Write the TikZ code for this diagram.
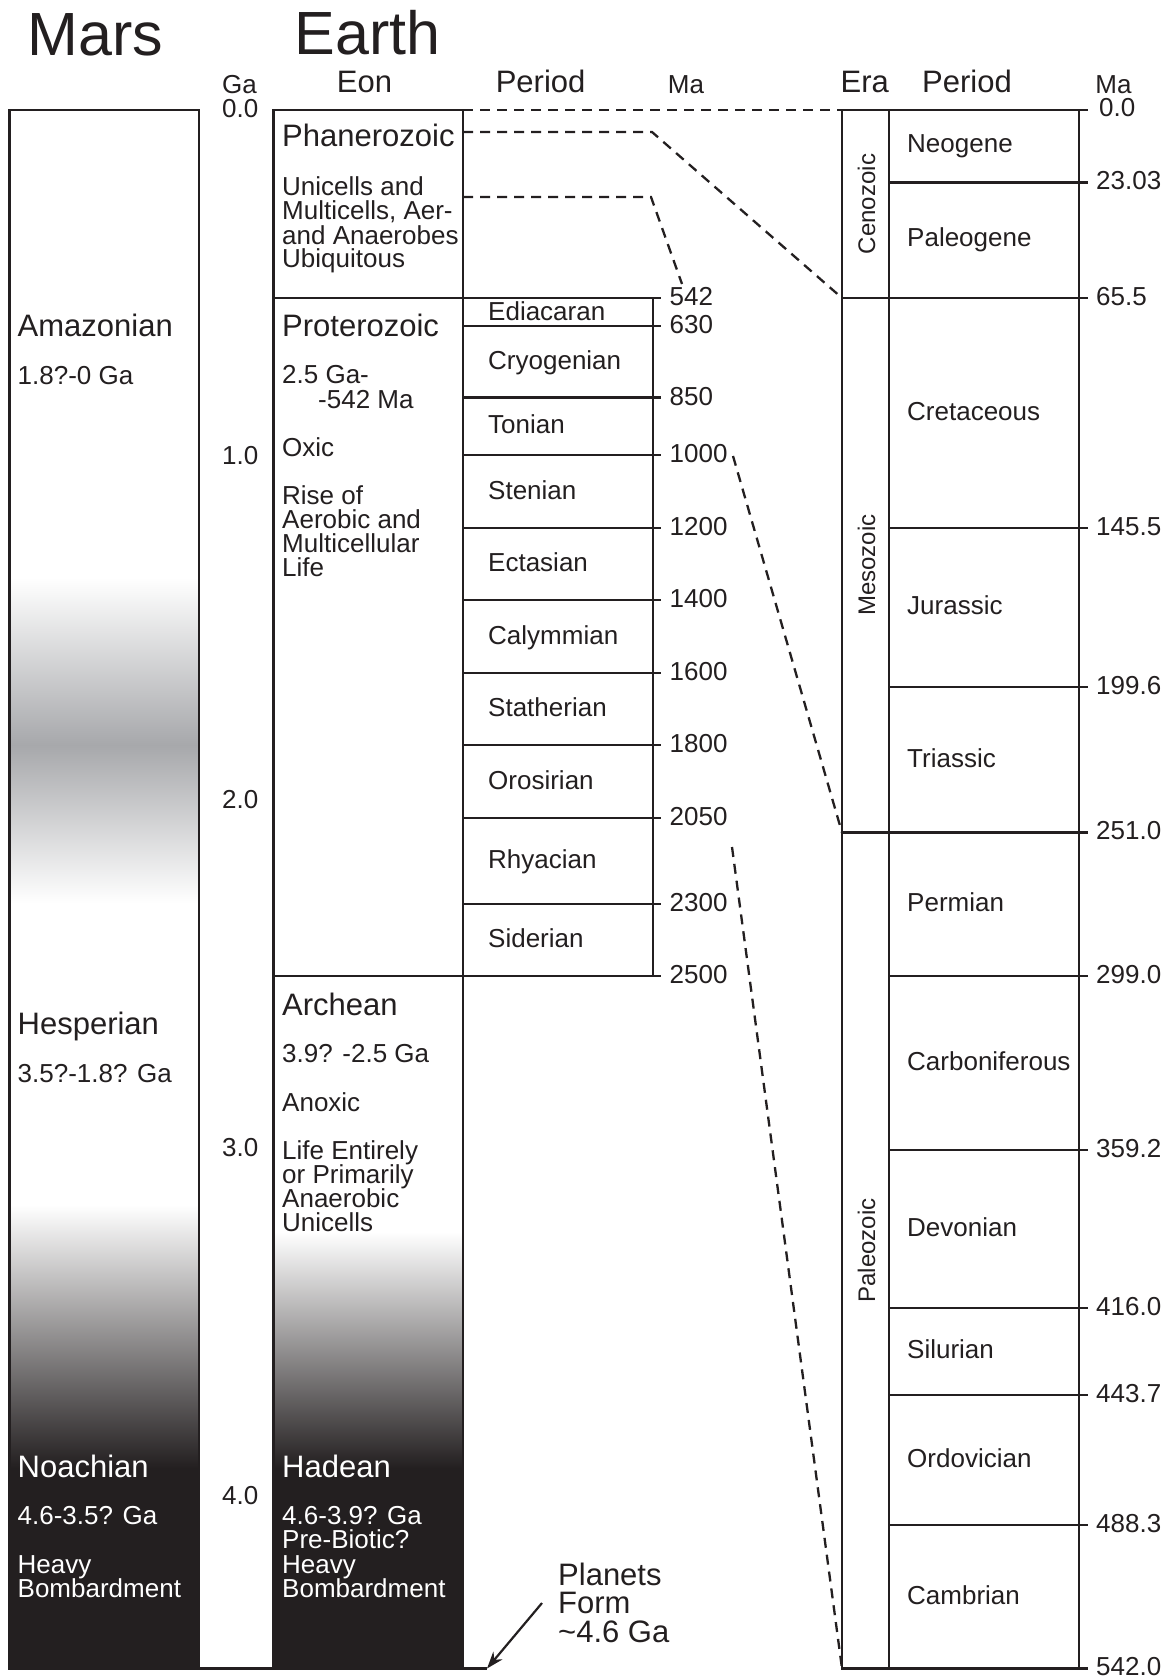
\documentclass[tikz,border=0pt]{standalone}
\usepackage{fontspec}
\setmainfont{Liberation Sans}
\usetikzlibrary{arrows.meta}
\definecolor{ink}{HTML}{231F20}
\definecolor{midgray}{HTML}{A7A8AB}
\begin{document}
\begin{tikzpicture}[x=1pt,y=-1pt,
  frame/.style={draw=ink,line width=2.7pt},
  divider/.style={draw=ink,line width=2.6pt},
  tickmark/.style={draw=ink,line width=2.6pt},
  link/.style={draw=ink,line width=2.3pt,dash pattern=on 10pt off 7pt},
  bigtitle/.style={font=\fontsize{61}{61}\selectfont,text=ink,inner sep=0pt,anchor=base},
  colhead/.style={font=\fontsize{31}{31}\selectfont,text=ink,inner sep=0pt,anchor=base},
  smallhead/.style={font=\fontsize{26}{26}\selectfont,text=ink,inner sep=0pt,anchor=base},
  unitname/.style={font=\fontsize{31}{31}\selectfont,text=ink,inner sep=0pt,anchor=base west},
  note/.style={font=\fontsize{26}{26}\selectfont,text=ink,inner sep=0pt,anchor=base west},
  ageval/.style={font=\fontsize{26}{26}\selectfont,text=ink,inner sep=0pt,anchor=base west},
  eralabel/.style={font=\fontsize{24}{24}\selectfont,text=ink,inner sep=0pt,anchor=base,rotate=90},
  pointer/.style={draw=ink,line width=2.2pt,-{Stealth[length=17pt,width=12pt]}}
]
\useasboundingbox (0,0) rectangle (1167,1680);
\fill[white] (0,0) rectangle (1167,1680);

% ---------- shading of Mars and Earth columns ----------
\shade[top color=white,bottom color=midgray] (9.6,578) rectangle (199,745);
\shade[top color=midgray,bottom color=white] (9.6,745) rectangle (199,903);
\shade[top color=white,bottom color=ink] (9.6,1205) rectangle (199,1468);
\fill[ink] (9.6,1468) rectangle (199,1668.5);
\shade[top color=white,bottom color=ink] (273.6,1232) rectangle (463,1468);
\fill[ink] (273.6,1468) rectangle (463,1668.5);

% ---------- frames ----------
\draw[frame] (9.6,110) rectangle (199,1668.5);
\draw[frame] (273.6,110) rectangle (463,1668.5);
\draw[frame] (463,298) rectangle (653,976);
\draw[divider] (273.6,298) -- (463,298);
\draw[divider] (273.6,976) -- (463,976);
\foreach \y in {326,397.5,455,528,600,673,745,818,904}
  \draw[divider] (463,\y) -- (653,\y);
\foreach \y in {298,326,397.5,455,528,600,673,745,818,904,976}
  \draw[tickmark] (653,\y) -- (661,\y);

% right table
\draw[frame] (842,110) rectangle (1079,1668.5);
\draw[divider] (889,110) -- (889,1668.5);
\draw[divider] (842,298) -- (1079,298);
\draw[divider] (842,832.6) -- (1079,832.6);
\foreach \y in {182.4,528,687,976,1150,1308,1395,1525}
  \draw[divider] (889,\y) -- (1079,\y);
\foreach \y in {110,182.4,298,528,687,832.6,976,1150,1308,1395,1525,1668.5}
  \draw[tickmark] (1079,\y) -- (1088,\y);

% ---------- named points ----------
\coordinate (eonTop) at (463,110);
\coordinate (eraTop) at (842,110);
\coordinate (phanA) at (463,132);
\coordinate (phanB) at (652,132);
\coordinate (cenoBase) at (842,298);
\coordinate (phanC) at (463,197);
\coordinate (phanD) at (651,197);
\coordinate (ediTop) at (682,284);
\coordinate (maA) at (733,456);
\coordinate (mesoBase) at (842,832.6);
\coordinate (maB) at (732,847);
\coordinate (paleoBase) at (842,1668.5);
\coordinate (marsBase) at (9.6,1668.5);
\coordinate (formTip) at (487,1668.5);
\coordinate (formTail) at (542,1603);

% bottom line
\draw[frame] (marsBase) -- (formTip);

% ---------- dashed correlation lines ----------
\draw[link] (eonTop) -- (eraTop);
\draw[link] (phanA) -- (phanB) -- (cenoBase);
\draw[link] (phanC) -- (phanD) -- (ediTop);
\draw[link] (maA) -- (mesoBase);
\draw[link] (maB) -- (paleoBase);

% ---------- titles and headers ----------
\node[bigtitle] (mars) at (95.7,56) {Mars};
\node[bigtitle] (earth) at (367.4,55) {Earth};
\node[smallhead,anchor=base west] (ga) at (222,94) {Ga};
\node[colhead] (eonh) at (364.5,93) {Eon};
\node[colhead] (perh) at (540.6,93) {Period};
\node[smallhead] (mah) at (686,94) {Ma};
\node[colhead] (erah) at (864.7,93) {Era};
\node[colhead] (perh2) at (967,93) {Period};
\node[smallhead] (mah2) at (1113.5,94) {Ma};

% Ga scale
\node[ageval] (g0) at (222,118) {0.0};
\node[ageval] (g1) at (222,464) {1.0};
\node[ageval] (g2) at (222,808) {2.0};
\node[ageval] (g3) at (222,1156) {3.0};
\node[ageval] (g4) at (222,1504) {4.0};

% ---------- Mars column ----------
\node[unitname] (amaz) at (17.5,336) {Amazonian};
\node[note] (amazA) at (17.5,384) {1.8?-0 Ga};
\node[unitname] (hesp) at (17.5,1034) {Hesperian};
\node[note] (hespA) at (17.5,1082) {3.5?-1.8? Ga};
\node[unitname,text=white] (noach) at (17.5,1477) {Noachian};
\node[note,text=white] (noachA) at (17.5,1524) {4.6-3.5? Ga};
\node[note,text=white] (noachB) at (17.5,1573) {Heavy};
\node[note,text=white] (noachC) at (17.5,1597) {Bombardment};

% ---------- Earth eons ----------
\node[unitname] (phan) at (282,147) {Phanerozoic};
\node[note] (phan1) at (282,196) {Unicells and};
\node[note] (phan2) at (282,220) {Multicells, Aer-};
\node[note] (phan3) at (282,244) {and Anaerobes};
\node[note] (phan4) at (282,268) {Ubiquitous};

\node[unitname] (prot) at (282,336) {Proterozoic};
\node[note] (prot1) at (282,383) {2.5 Ga-};
\node[note] (prot2) at (318,408) {-542 Ma};
\node[note] (prot3) at (282,456) {Oxic};
\node[note] (prot4) at (282,504) {Rise of};
\node[note] (prot5) at (282,528) {Aerobic and};
\node[note] (prot6) at (282,552) {Multicellular};
\node[note] (prot7) at (282,576) {Life};

\node[unitname] (arch) at (282,1015) {Archean};
\node[note] (arch1) at (282,1062) {3.9? -2.5 Ga};
\node[note] (arch2) at (282,1111) {Anoxic};
\node[note] (arch3) at (282,1159) {Life Entirely};
\node[note] (arch4) at (282,1183) {or Primarily};
\node[note] (arch5) at (282,1207) {Anaerobic};
\node[note] (arch6) at (282,1231) {Unicells};

\node[unitname,text=white] (had) at (282,1477) {Hadean};
\node[note,text=white] (had1) at (282,1524) {4.6-3.9? Ga};
\node[note,text=white] (had2) at (282,1548) {Pre-Biotic?};
\node[note,text=white] (had3) at (282,1573) {Heavy};
\node[note,text=white] (had4) at (282,1597) {Bombardment};

% ---------- Proterozoic periods ----------
\node[note] (p1) at (488,320) {Ediacaran};
\node[note] (p2) at (488,369) {Cryogenian};
\node[note] (p3) at (488,433.5) {Tonian};
\node[note] (p4) at (488,499) {Stenian};
\node[note] (p5) at (488,571.5) {Ectasian};
\node[note] (p6) at (488,644) {Calymmian};
\node[note] (p7) at (488,716.5) {Statherian};
\node[note] (p8) at (488,789) {Orosirian};
\node[note] (p9) at (488,868.5) {Rhyacian};
\node[note] (p10) at (488,947.5) {Siderian};

% Ma values (left)
\node[ageval] (m1) at (669.5,305.5) {542};
\node[ageval] (m2) at (669.5,333.5) {630};
\node[ageval] (m3) at (669.5,405) {850};
\node[ageval] (m4) at (669.5,462.5) {1000};
\node[ageval] (m5) at (669.5,535.5) {1200};
\node[ageval] (m6) at (669.5,607.5) {1400};
\node[ageval] (m7) at (669.5,680.5) {1600};
\node[ageval] (m8) at (669.5,752.5) {1800};
\node[ageval] (m9) at (669.5,825.5) {2050};
\node[ageval] (m10) at (669.5,911.5) {2300};
\node[ageval] (m11) at (669.5,983.5) {2500};

% ---------- Phanerozoic eras / periods ----------
\node[eralabel] (ceno) at (875,204) {Cenozoic};
\node[eralabel] (meso) at (875,565) {Mesozoic};
\node[eralabel] (paleo) at (875,1250.5) {Paleozoic};

\node[note] (q1) at (907,153) {Neogene};
\node[note] (q2) at (907,247) {Paleogene};
\node[note] (q3) at (907,420) {Cretaceous};
\node[note] (q4) at (907,614.5) {Jurassic};
\node[note] (q5) at (907,767) {Triassic};
\node[note] (q6) at (907,911.5) {Permian};
\node[note] (q7) at (907,1070) {Carboniferous};
\node[note] (q8) at (907,1236) {Devonian};
\node[note] (q9) at (907,1358.5) {Silurian};
\node[note] (q10) at (907,1467) {Ordovician};
\node[note] (q11) at (907,1604) {Cambrian};

% Ma values (right)
\node[ageval] (r0) at (1099,117) {0.0};
\node[ageval] (r1) at (1096,189.5) {23.03};
\node[ageval] (r2) at (1096,305) {65.5};
\node[ageval] (r3) at (1096,535) {145.5};
\node[ageval] (r4) at (1096,694) {199.6};
\node[ageval] (r5) at (1096,839.5) {251.0};
\node[ageval] (r6) at (1096,983) {299.0};
\node[ageval] (r7) at (1096,1157) {359.2};
\node[ageval] (r8) at (1096,1315) {416.0};
\node[ageval] (r9) at (1096,1402) {443.7};
\node[ageval] (r10) at (1096,1532) {488.3};
\node[ageval] (r11) at (1096,1675.5) {542.0};

% ---------- planets form ----------
\node[unitname] (pf1) at (558,1585) {Planets};
\node[unitname] (pf2) at (558,1613.5) {Form};
\node[unitname] (pf3) at (558,1642) {\textasciitilde 4.6 Ga};
\draw[pointer] (formTail) -- (formTip);
\end{tikzpicture}
\end{document}
